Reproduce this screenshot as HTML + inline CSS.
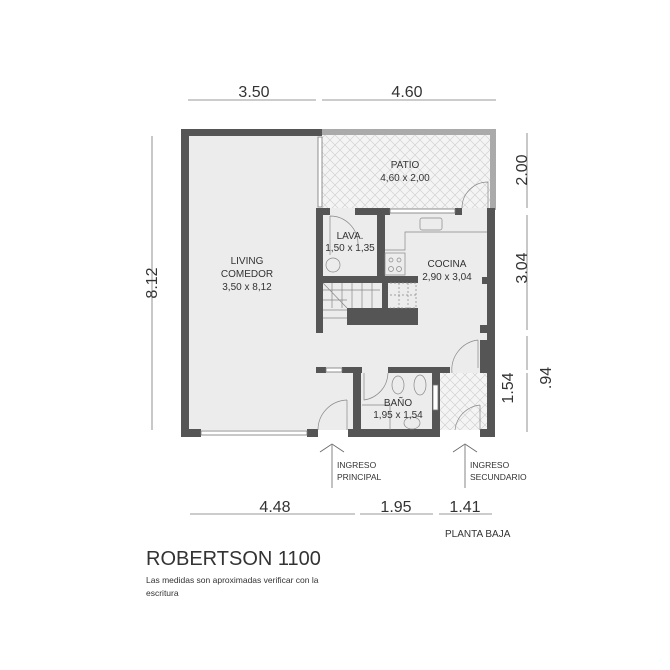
<!DOCTYPE html>
<html><head><meta charset="utf-8"><style>
html,body{margin:0;padding:0;background:#fff;}
svg{display:block;}
text{font-family:"Liberation Sans",sans-serif;fill:#333;}
</style></head><body>
<svg width="670" height="670" viewBox="0 0 670 670" xmlns="http://www.w3.org/2000/svg">
<defs>
<pattern id="h" width="10" height="10" patternUnits="userSpaceOnUse">
<rect width="10" height="10" fill="#f4f4f4"/>
<path d="M0,0L10,10M10,0L0,10" stroke="#ccc" stroke-width="0.6"/>
</pattern>
</defs>
<rect x="188" y="136" width="130" height="294" fill="#ececec"/>
<rect x="318" y="208" width="170" height="222" fill="#ececec"/>
<rect x="322" y="135" width="168" height="73" fill="url(#h)"/>
<rect x="440" y="373" width="48" height="57" fill="url(#h)"/>
<rect x="317" y="430" width="31" height="7" fill="#fff"/>
<rect x="322" y="129" width="174" height="6" fill="#aaa"/>
<rect x="490" y="129" width="6" height="81" fill="#aaa"/>
<g fill="#555">
<rect x="181" y="129" width="141" height="7"/>
<rect x="181" y="129" width="8" height="308"/>
<rect x="181" y="429" width="20" height="8"/>
<rect x="307" y="429" width="11" height="8"/>
<rect x="348" y="429" width="92" height="8"/>
<rect x="487" y="208" width="8" height="229"/>
<rect x="480" y="429" width="15" height="8"/>
<rect x="316" y="129" width="6" height="7"/>
<rect x="316" y="208" width="7" height="125"/>
<rect x="316" y="208" width="14" height="7"/>
<rect x="355" y="208" width="35" height="7"/>
<rect x="455" y="208" width="7" height="7"/>
<rect x="377" y="208" width="8" height="70"/>
<rect x="316" y="276" width="102" height="7"/>
<rect x="382" y="282" width="6" height="26"/>
<rect x="347" y="308" width="71" height="17"/>
<rect x="482" y="277" width="13" height="7"/>
<rect x="480" y="325" width="8" height="8"/>
<rect x="480" y="340" width="8" height="33"/>
<rect x="316" y="367" width="10" height="6"/>
<rect x="342" y="367" width="20" height="6"/>
<rect x="353" y="367" width="8" height="70"/>
<rect x="388" y="367" width="62" height="6"/>
<rect x="432" y="367" width="8" height="70"/>
</g>
<g fill="#fff" stroke="#777" stroke-width="0.8">
<rect x="201" y="431" width="106" height="4"/>
<rect x="326" y="368" width="16" height="4"/>
<rect x="318" y="137" width="4" height="70"/>
<rect x="390" y="209" width="65" height="4"/>
<rect x="433" y="385" width="5" height="25"/>
</g>
<g fill="none" stroke="#888" stroke-width="0.7">
<path d="M347,400 L347,430 M347,400 A30,30 0 0 0 318,430"/>
<path d="M478,340 L478,368 M478,340 A30,30 0 0 0 452,373"/>
<path d="M480,405 L480,430 M480,405 A28,28 0 0 0 455,430"/>
<path d="M488,182 L488,208 M488,182 A26,26 0 0 0 462,208"/>
<path d="M330,216 L330,255 M330,216 A28,28 0 0 1 358,244"/>
<path d="M364,373 L364,400 A28,28 0 0 0 388,373"/>
<path d="M385,250 L405,250 L405,232 L487,232"/>
<rect x="420" y="218" width="22" height="12" rx="2"/>
<rect x="385" y="253" width="20" height="22"/>
<circle cx="391" cy="260" r="2"/><circle cx="399" cy="260" r="2"/>
<circle cx="391" cy="269" r="2.5"/><circle cx="399" cy="269" r="2.5"/>
<circle cx="333" cy="265" r="7"/>
<path d="M323,290 L380,290 M332,283 L332,308 M342,283 L342,308 M352,283 L352,308 M362,283 L362,308 M372,283 L372,308 M323,300 L347,300 M323,310 L347,310 M323,318 L347,318 M323,283 L347,308"/>
<path d="M390,283 L416,283 L416,308 L390,308 M399,283 L399,308 M408,283 L408,308 M390,295 L416,295" stroke-dasharray="2,2"/>
<ellipse cx="398" cy="385" rx="6" ry="9"/>
<ellipse cx="420" cy="385" rx="6" ry="10"/>
<ellipse cx="412" cy="423" rx="8" ry="6"/>
<path d="M362,405 L390,405 L390,430"/>
</g>
<g font-size="10" text-anchor="middle">
<text x="247" y="264">LIVING</text>
<text x="247" y="277">COMEDOR</text>
<text x="247" y="290">3,50 x 8,12</text>
<text x="405" y="168">PATIO</text>
<text x="405" y="181">4,60 x 2,00</text>
<text x="350" y="239">LAVA.</text>
<text x="350" y="251">1,50 x 1,35</text>
<text x="447" y="267">COCINA</text>
<text x="447" y="280">2,90 x 3,04</text>
<text x="398" y="406">BAÑO</text>
<text x="398" y="418">1,95 x 1,54</text>
</g>
<g fill="none" stroke="#666" stroke-width="0.8">
<path d="M332,445 L332,488 M320,452 L332,444 L344,452"/>
<path d="M465,445 L465,488 M453,452 L465,444 L477,452"/>
</g>
<g font-size="8.5">
<text x="337" y="468">INGRESO</text>
<text x="337" y="480">PRINCIPAL</text>
<text x="470" y="468">INGRESO</text>
<text x="470" y="480">SECUNDARIO</text>
</g>
<g stroke="#777" stroke-width="0.8" fill="none">
<path d="M188,100 L316,100 M322,100 L496,100"/>
<path d="M152,136 L152,430"/>
<path d="M527,133 L527,208 M527,215 L527,330 M527,336 L527,370 M527,373 L527,432"/>
<path d="M190,514 L355,514 M360,514 L433,514 M439,514 L492,514"/>
</g>
<g font-size="16" text-anchor="middle">
<text x="254" y="97">3.50</text>
<text x="407" y="97">4.60</text>
<text x="275" y="512">4.48</text>
<text x="396" y="512">1.95</text>
<text x="465" y="512">1.41</text>
<text transform="translate(157,283) rotate(-90)">8.12</text>
<text transform="translate(527,170) rotate(-90)">2.00</text>
<text transform="translate(527,268) rotate(-90)">3.04</text>
<text transform="translate(513,388) rotate(-90)">1.54</text>
<text transform="translate(551,378) rotate(-90)">.94</text>
</g>
<text x="445" y="537" font-size="10">PLANTA BAJA</text>
<text x="146" y="565" font-size="20">ROBERTSON 1100</text>
<text x="146" y="583" font-size="8.5">Las medidas son aproximadas verificar con la</text>
<text x="146" y="596" font-size="8.5">escritura</text>
</svg>
</body></html>
